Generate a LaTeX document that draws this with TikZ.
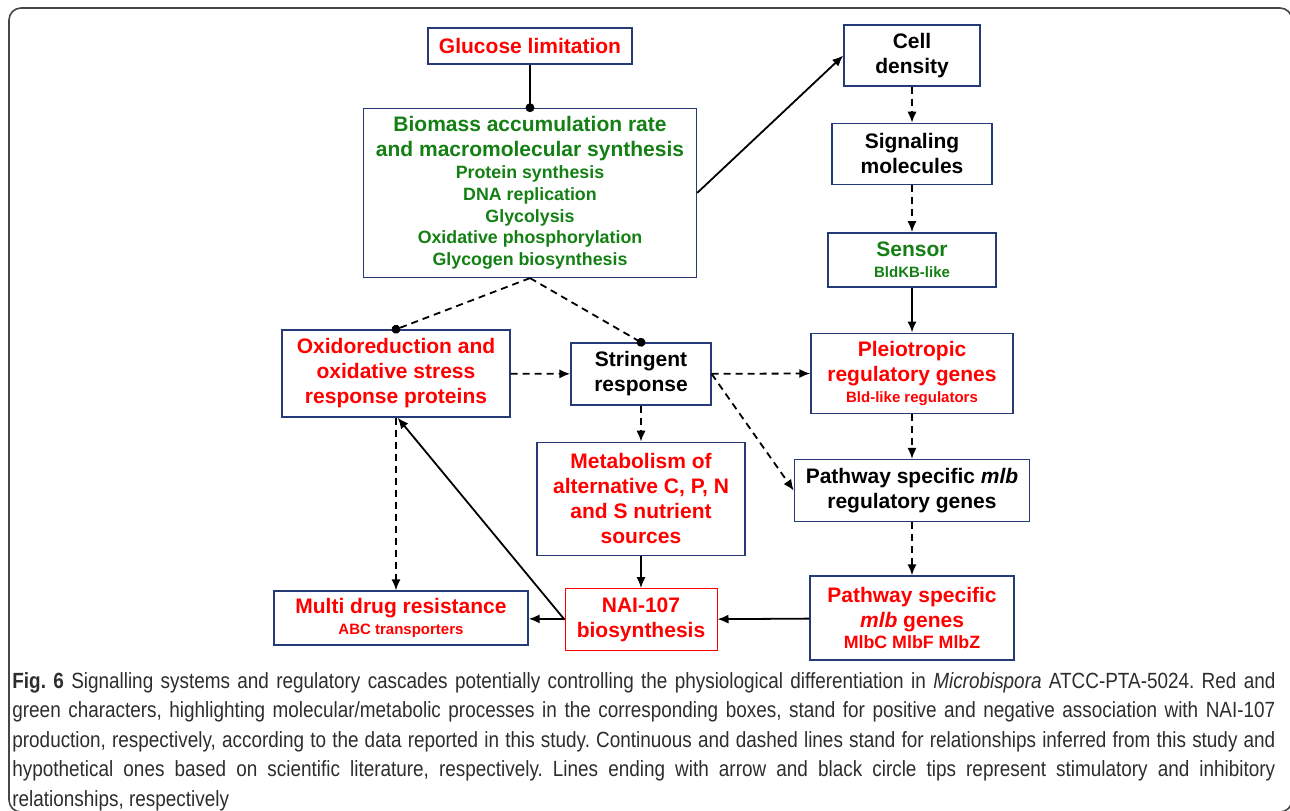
\documentclass[tikz,border=0pt]{standalone}
\usepackage{fontspec}
\setmainfont{Liberation Sans}
\newfontfamily\capfont[FakeStretch=0.86]{Liberation Sans}
\usetikzlibrary{arrows.meta,positioning}
\definecolor{boxblue}{RGB}{38,58,120}
\definecolor{posred}{RGB}{255,0,0}
\definecolor{neggreen}{RGB}{20,128,20}
\definecolor{framegray}{RGB}{70,70,70}
\definecolor{captext}{RGB}{45,45,45}

\newcommand{\minortxt}[1]{{\fontsize{8.9}{10.9}\selectfont #1}}
\newcommand{\tinytxt}[1]{{\fontsize{7.5}{9}\selectfont #1}}

\begin{document}
\begin{tikzpicture}[
  x=0.5pt, y=-0.5pt,
  box/.style={draw=boxblue, line width=0.7pt, fill=white, align=center, inner sep=1pt,
              font=\bfseries\fontsize{10.5}{12.5}\selectfont},
  arr/.style={-{Latex[length=5.5pt,width=4.6pt]}, line width=0.9pt},
  inh/.style={-{Circle[length=4.4pt]}, line width=0.9pt, shorten >=-2.2pt},
  dsh/.style={dash pattern=on 3.5pt off 2.5pt}
]
\useasboundingbox (0,0) rectangle (1290,810);

% frame
\begin{scope}
  \clip (0,0) rectangle (1290,810);
  \draw[framegray, line width=0.8pt, rounded corners=6pt] (9,8) rectangle (1292,812);
\end{scope}

% Top
\node[box, text=posred, minimum width=102pt, minimum height=18pt] (gluc) at (530,46) {Glucose limitation};
\node[box, text=neggreen, minimum width=166.5pt, minimum height=84.5pt, below=21.5pt of gluc] (biom)
  {Biomass accumulation rate\\ and macromolecular synthesis\\[-1.6pt]
   \minortxt{Protein synthesis}\\[-1.6pt] \minortxt{DNA replication}\\[-1.6pt] \minortxt{Glycolysis}\\[-1.6pt]
   \minortxt{Oxidative phosphorylation}\\[-1.6pt] \minortxt{Glycogen biosynthesis}};

% Right column
\node[box, minimum width=68pt, minimum height=30.5pt] (cell) at (912,55.5) {Cell\\ density};
\node[box, minimum width=80pt, minimum height=30.5pt, below=18pt of cell] (sigm) {Signaling\\ molecules};
\node[box, text=neggreen, minimum width=84pt, minimum height=27pt, below=23.5pt of sigm] (sens)
  {Sensor\\[-2pt] \tinytxt{BldKB-like}};
\node[box, text=posred, minimum width=101pt, minimum height=40pt, below=22.5pt of sens] (pleio)
  {Pleiotropic\\ regulatory genes\\[-2pt] \tinytxt{Bld-like regulators}};
\node[box, minimum width=117.5pt, minimum height=31pt, below=22.5pt of pleio] (pwreg)
  {Pathway specific \textit{mlb}\\ regulatory genes};
\node[box, text=posred, minimum width=102pt, minimum height=42pt, below=26.5pt of pwreg] (mlbg)
  {Pathway specific\\ \textit{mlb} genes\\[-1.6pt] \minortxt{MlbC MlbF MlbZ}};

% Middle column
\node[box, minimum width=70pt, minimum height=31pt] (strg) at (641,374) {Stringent\\ response};
\node[box, text=posred, minimum width=104pt, minimum height=56.5pt, below=18pt of strg] (metab)
  {Metabolism of\\ alternative C, P, N\\ and S nutrient\\ sources};
\node[box, draw=posred, line width=0.5pt, text=posred, minimum width=76pt, minimum height=31pt,
      below=16pt of metab] (nai) {NAI-107\\ biosynthesis};

% Left column
\node[box, text=posred, minimum width=114pt, minimum height=43.5pt] (oxid) at (396,373.5)
  {Oxidoreduction and\\ oxidative stress\\ response proteins};
\node[box, text=posred, minimum width=127pt, minimum height=27pt] (mdr) at (401,618)
  {Multi drug resistance\\[-2pt] \tinytxt{ABC transporters}};

% Links
\draw[inh] (gluc) -- (biom);
\draw[arr] (biom.east) -- (cell.west);
\draw[arr, dsh] (cell) -- (sigm);
\draw[arr, dsh] (sigm) -- (sens);
\draw[arr] (sens) -- (pleio);
\draw[inh, dsh] (biom.south) -- (oxid.north);
\draw[inh, dsh] (biom.south) -- (strg.north);
\draw[arr, dsh] (oxid) -- (strg);
\draw[arr, dsh] (strg) -- (pleio);
\draw[arr, dsh] (strg.east) -- (pwreg.west);
\draw[arr, dsh] (strg) -- (metab);
\draw[arr, dsh] (pleio) -- (pwreg);
\draw[arr, dsh] (pwreg) -- (mlbg);
\draw[arr] (metab) -- (nai);
\draw[arr] (mlbg) -- (nai);
\draw[arr] (nai) -- (mdr);
\draw[arr] (nai.west) -- ([xshift=0.8pt]oxid.south);
\draw[arr, dsh] (oxid.south) -- (oxid.south |- mdr.north);

% Caption
\node[anchor=north west, inner sep=0pt, text width=631.5pt, align=justify, text=captext,
      font=\capfont\fontsize{11}{14.75}\selectfont\frenchspacing] (capt) at (12,672)
  {\textbf{Fig. 6} Signalling systems and regulatory cascades potentially controlling the physiological differentiation in \textit{Microbispora} ATCC-PTA-5024. Red and\linebreak
   green characters, highlighting molecular/metabolic processes in the corresponding boxes, stand for positive and negative association with NAI-107\linebreak
   production, respectively, according to the data reported in this study. Continuous and dashed lines stand for relationships inferred from this study and\linebreak
   hypothetical ones based on scientific literature, respectively. Lines ending with arrow and black circle tips represent stimulatory and inhibitory\linebreak
   relationships, respectively};
\end{tikzpicture}
\end{document}
